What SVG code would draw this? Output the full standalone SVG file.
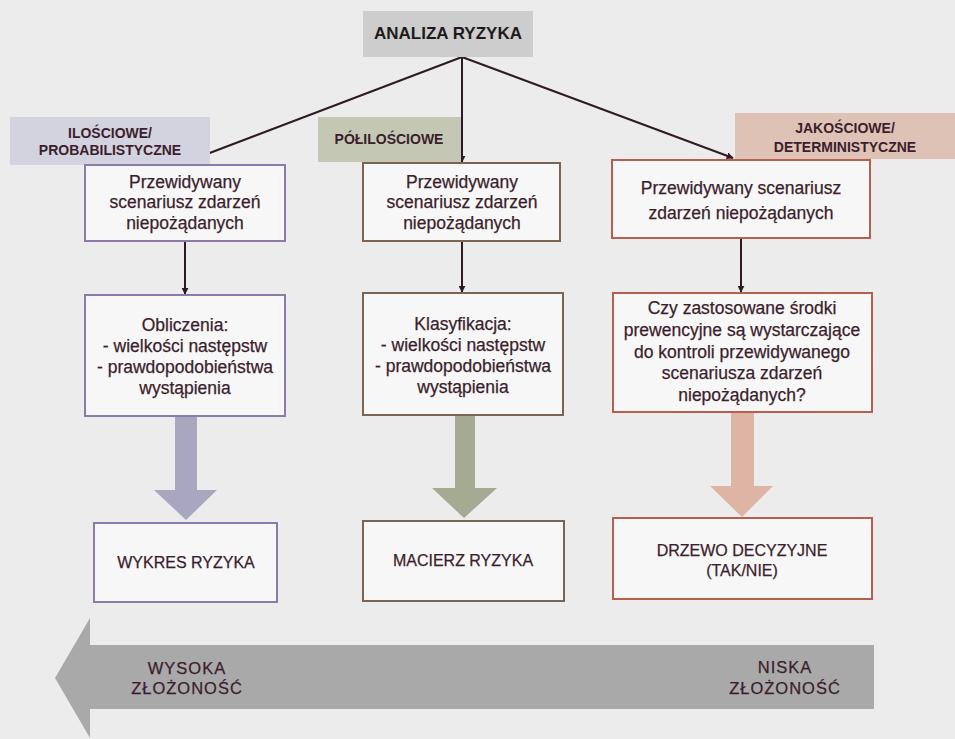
<svg xmlns="http://www.w3.org/2000/svg" width="955" height="739" viewBox="0 0 955 739">
  <defs>
    <marker id="tip" viewBox="0 0 10 10" refX="9" refY="5" markerWidth="3.5" markerHeight="3.5" orient="auto" markerUnits="strokeWidth">
      <path d="M0,0 L10,5 L0,10 z" fill="#2e1a22"/>
    </marker>
    <style>
      .txt { font-family: "Liberation Sans", Arial, sans-serif; fill: #3b1e2c; text-anchor: middle; stroke: #3b1e2c; stroke-width: 0.25px; }
      .body { font-size: 17.5px; }
      .cap { font-size: 16px; }
      .cat { font-size: 14px; font-weight: bold; stroke: none; }
      .head { font-size: 17px; font-weight: bold; fill: #1e1a1c; stroke: none; }
      .scale { font-size: 16.5px; letter-spacing: 1px; }
      .box { fill: #f7f7f7; stroke-width: 2; }
      .q { stroke: #8c7aac; }
      .s { stroke: #7b6552; }
      .d { stroke: #b5604f; }
      .link { fill: none; stroke: #2e1a22; stroke-width: 2; }
      .arrow { marker-end: url(#tip); }
    </style>
  </defs>

  <!-- paper -->
  <rect x="0" y="0" width="955" height="739" fill="#ececec"/>

  <!-- connectors -->
  <g id="connectors">
    <line class="link" x1="462" y1="57" x2="207" y2="154"/>
    <line class="link arrow" x1="462" y1="57" x2="462" y2="162"/>
    <line class="link arrow" x1="462" y1="57" x2="733" y2="158"/>
    <line class="link arrow" x1="185" y1="241" x2="185" y2="294"/>
    <line class="link arrow" x1="462" y1="241" x2="462" y2="292"/>
    <line class="link arrow" x1="741" y1="238" x2="741" y2="292"/>
    <!-- block arrows to result boxes -->
    <polygon points="175,416 197,416 197,490 217,490 186,520 154,490 175,490" fill="#a9a6c0"/>
    <polygon points="455,415 475,415 475,488 497,488 464,518 432,488 455,488" fill="#a5aa92"/>
    <polygon points="731,412 754,412 754,486 773,486 742,517 710,486 731,486" fill="#deb5a5"/>
  </g>

  <g id="root">
    <rect x="363" y="11" width="170" height="46" fill="#cdcdcd"/>
    <text class="txt head" x="448" y="39">ANALIZA RYZYKA</text>
  </g>

  <g id="cat-quantitative">
    <rect x="10" y="117" width="200" height="48" fill="#d3d2df"/>
    <text class="txt cat" x="110" y="138">ILOŚCIOWE/</text>
    <text class="txt cat" x="110" y="155">PROBABILISTYCZNE</text>
  </g>

  <g id="cat-semi">
    <rect x="318" y="117" width="143" height="45" fill="#c5c7b5"/>
    <text class="txt cat" x="389" y="144">PÓŁILOŚCIOWE</text>
  </g>

  <g id="cat-qualitative">
    <rect x="735" y="113" width="220" height="46" fill="#dfc2b6"/>
    <text class="txt cat" x="845" y="133">JAKOŚCIOWE/</text>
    <text class="txt cat" x="845" y="152">DETERMINISTYCZNE</text>
  </g>

  <!-- scenario boxes -->
  <g id="scenario-q">
    <rect class="box q" x="85" y="165" width="200" height="76"/>
    <text class="txt body" x="185" y="188">Przewidywany</text>
    <text class="txt body" x="185" y="208">scenariusz zdarzeń</text>
    <text class="txt body" x="185" y="229">niepożądanych</text>
  </g>

  <g id="scenario-s">
    <rect class="box s" x="363" y="163" width="197" height="78"/>
    <text class="txt body" x="462" y="188">Przewidywany</text>
    <text class="txt body" x="462" y="208">scenariusz zdarzeń</text>
    <text class="txt body" x="462" y="229">niepożądanych</text>
  </g>

  <g id="scenario-d">
    <rect class="box d" x="612" y="160" width="258" height="78"/>
    <text class="txt body" x="741" y="194">Przewidywany scenariusz</text>
    <text class="txt body" x="741" y="219">zdarzeń niepożądanych</text>
  </g>

  <!-- method boxes -->
  <g id="method-q">
    <rect class="box q" x="85" y="295" width="200" height="121"/>
    <text class="txt body" x="185" y="331">Obliczenia:</text>
    <text class="txt body" x="185" y="352">- wielkości następstw</text>
    <text class="txt body" x="185" y="373">- prawdopodobieństwa</text>
    <text class="txt body" x="185" y="394">wystąpienia</text>
  </g>

  <g id="method-s">
    <rect class="box s" x="363" y="293" width="200" height="122"/>
    <text class="txt body" x="463" y="330">Klasyfikacja:</text>
    <text class="txt body" x="463" y="351">- wielkości następstw</text>
    <text class="txt body" x="463" y="372">- prawdopodobieństwa</text>
    <text class="txt body" x="463" y="393">wystąpienia</text>
  </g>

  <g id="method-d">
    <rect class="box d" x="613" y="293" width="259" height="119"/>
    <text class="txt body" x="742" y="314">Czy zastosowane środki</text>
    <text class="txt body" x="742" y="336">prewencyjne są wystarczające</text>
    <text class="txt body" x="742" y="358">do kontroli przewidywanego</text>
    <text class="txt body" x="742" y="379">scenariusza zdarzeń</text>
    <text class="txt body" x="742" y="401">niepożądanych?</text>
  </g>

  <!-- result boxes -->
  <g id="result-q">
    <rect class="box q" x="94" y="523" width="183" height="79"/>
    <text class="txt cap" x="186" y="568">WYKRES RYZYKA</text>
  </g>

  <g id="result-s">
    <rect class="box s" x="363" y="521" width="201" height="80"/>
    <text class="txt cap" x="463" y="566">MACIERZ RYZYKA</text>
  </g>

  <g id="result-d">
    <rect class="box d" x="613" y="518" width="259" height="81"/>
    <text class="txt cap" x="742" y="556">DRZEWO DECYZYJNE</text>
    <text class="txt cap" x="742" y="576">(TAK/NIE)</text>
  </g>

  <!-- complexity scale -->
  <g id="complexity">
    <polygon points="55,678 90,618 90,645 874,645 874,709 90,709 90,738" fill="#a9a9a9"/>
    <text class="txt scale" x="187" y="674">WYSOKA</text>
    <text class="txt scale" x="187" y="694">ZŁOŻONOŚĆ</text>
    <text class="txt scale" x="785" y="673">NISKA</text>
    <text class="txt scale" x="785" y="694">ZŁOŻONOŚĆ</text>
  </g>
</svg>
